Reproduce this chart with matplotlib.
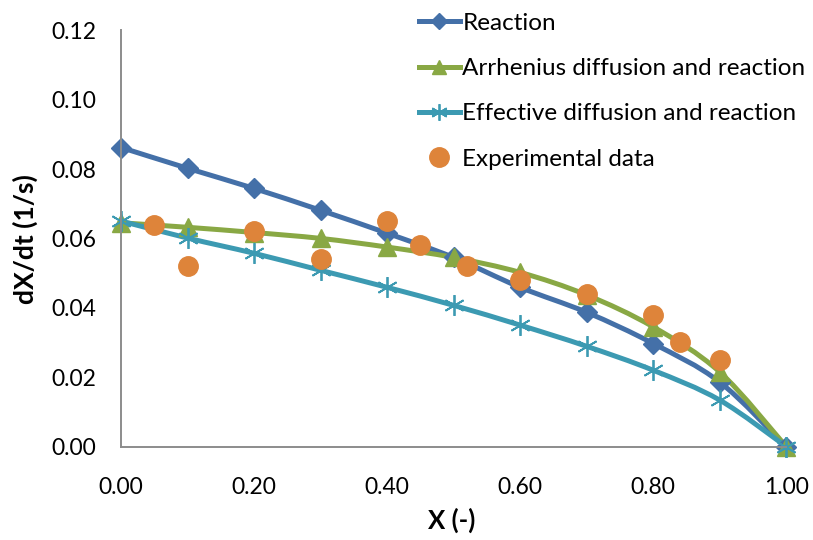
import matplotlib
matplotlib.use('Agg')
import matplotlib.pyplot as plt
import numpy as np
from matplotlib.path import Path
from matplotlib.patches import PathPatch

plt.rcParams['font.family'] = ['Lato', 'DejaVu Sans']

x_model = [0.0, 0.1, 0.2, 0.3, 0.4, 0.5, 0.6, 0.7, 0.8, 0.9, 1.0]
reaction = [0.0862, 0.0802, 0.0744, 0.0681, 0.0615, 0.0545, 0.0459, 0.0387, 0.0297, 0.0186, 0.0]
arrhenius = [0.0645, 0.0632, 0.0617, 0.0600, 0.0575, 0.0545, 0.0502, 0.0437, 0.0345, 0.0215, 0.0]
effective = [0.0650, 0.0601, 0.0557, 0.0508, 0.0459, 0.0407, 0.0350, 0.0289, 0.0220, 0.0134, 0.0]

x_exp = [0.05, 0.10, 0.20, 0.30, 0.40, 0.45, 0.52, 0.60, 0.70, 0.80, 0.84, 0.90]
y_exp = [0.064, 0.052, 0.062, 0.054, 0.065, 0.058, 0.052, 0.048, 0.044, 0.038, 0.030, 0.025]

c_blue = '#4470A8'
c_green = '#89A844'
c_teal = '#3C9AB2'
c_orange = '#DE843A'


def smooth_path(xs, ys):
    # catmull-rom style bezier through the points
    p = np.column_stack([xs, ys])
    n = len(p)
    verts = [p[0]]
    codes = [Path.MOVETO]
    for i in range(n - 1):
        p0 = p[i - 1] if i > 0 else p[i]
        p1 = p[i]
        p2 = p[i + 1]
        p3 = p[i + 2] if i + 2 < n else p[i + 1]
        verts += [p1 + (p2 - p0) / 6, p2 - (p3 - p1) / 6, p2]
        codes += [Path.CURVE4] * 3
    return Path(verts, codes)


fig = plt.figure(figsize=(8.13, 5.4), dpi=100)
ax = fig.add_axes([0.149, 0.173, 0.818, 0.771])

series = [
    (reaction, c_blue, 'D', 10, 1.0, 'Reaction'),
    (arrhenius, c_green, '^', 13, 1.0, 'Arrhenius diffusion and reaction'),
    (effective, c_teal, (6, 2, 0), 15, 1.3, 'Effective diffusion and reaction'),
]
for ys, col, mk, ms, mew, lab in series:
    ax.add_patch(PathPatch(smooth_path(x_model, ys), fill=False, edgecolor=col,
                           lw=3.6, capstyle='round', joinstyle='round'))
    ax.plot(x_model, ys, ls='none', marker=mk, ms=ms, color=col, mew=mew)
    ax.plot([], [], color=col, lw=3.6, marker=mk, ms=ms * 0.8, mew=mew, label=lab)

ax.plot(x_exp, y_exp, ls='none', marker='o', ms=14, color=c_orange, label='Experimental data')

ax.set_xlim(0, 1.0)
ax.set_ylim(0, 0.12)
xt = np.arange(0, 1.01, 0.2)
yt = np.arange(0, 0.121, 0.02)
ax.set_xticks(xt)
ax.set_yticks(yt)
ax.set_xticklabels(['%.2f' % v for v in xt])
ax.set_yticklabels(['%.2f' % v for v in yt])
ax.tick_params(length=0, labelsize=16.5)
ax.tick_params(axis='x', pad=22)
ax.tick_params(axis='y', pad=18)
for s in ['top', 'right']:
    ax.spines[s].set_visible(False)
for s in ['left', 'bottom']:
    ax.spines[s].set_color('#8C8C8C')
    ax.spines[s].set_linewidth(1.4)
for art in ax.lines + ax.patches:
    art.set_clip_on(False)

fig.text(0.556, 1 - 520 / 540, 'X (-)', fontsize=18.5, fontweight='bold',
         ha='center', va='center')
fig.text(25 / 813, 1 - 239 / 540, 'dX/dt (1/s)', fontsize=19, fontweight='bold',
         ha='center', va='center', rotation=90)

fig.legend(loc='upper left', bbox_to_anchor=(0.512, 0.981), frameon=False,
           fontsize=17.5, handlelength=1.7, handletextpad=0.1, labelspacing=1.0,
           borderaxespad=0, borderpad=0.1)

fig.savefig('out.png', dpi=100)
